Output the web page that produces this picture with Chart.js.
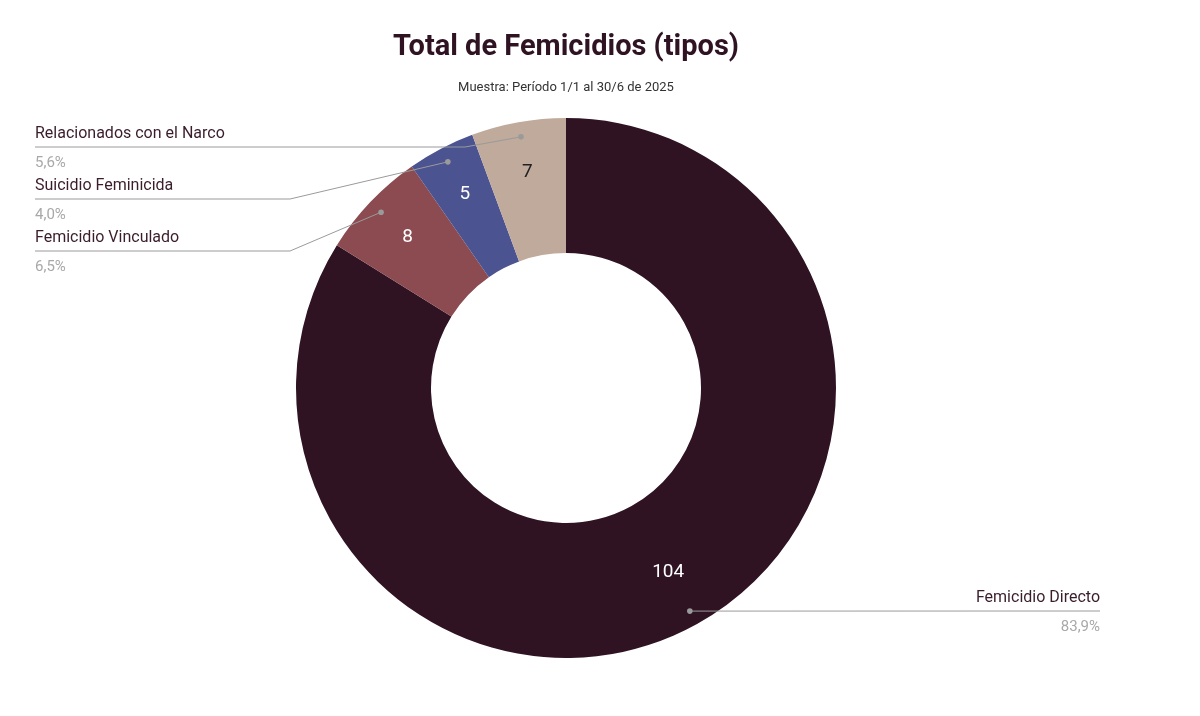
<!DOCTYPE html>
<html>
<head>
<meta charset="utf-8">
<script src="https://cdn.jsdelivr.net/npm/chart.js@4"></script>
<style>
  html, body { margin: 0; padding: 0; background: #fff; }
  #wrap { width: 1200px; height: 716px; position: relative; }
</style>
</head>
<body>
<div id="wrap"><canvas id="chart" width="1200" height="716"></canvas></div>
<script>
const categories = ['Femicidio Directo', 'Femicidio Vinculado', 'Suicidio Feminicida', 'Relacionados con el Narco'];
const values = [104, 8, 5, 7];
const percentLabels = ['83,9%', '6,5%', '4,0%', '5,6%'];
const colors = ['#2f1322', '#8c4b50', '#4b5391', '#c0aa9b'];
const valueColors = ['#ffffff', '#ffffff', '#ffffff', '#222222'];

// where each callout label sits (text y, side)
const callouts = [
  { side: 'right', lineY: 611, textX: 1100 },
  { side: 'left', lineY: 251, textX: 35, elbowX: 290 },
  { side: 'left', lineY: 199, textX: 35, elbowX: 290 },
  { side: 'left', lineY: 147, textX: 35, elbowX: 465 }
];

const labelPlugin = {
  id: 'labels',
  afterDraw(chart) {
    const ctx = chart.ctx;
    const meta = chart.getDatasetMeta(0);
    ctx.save();
    // title
    ctx.textAlign = 'center';
    ctx.fillStyle = '#2f1322';
    ctx.font = 'bold 29px Roboto';
    ctx.fillText('Total de Femicidios (tipos)', 566, 55);
    ctx.fillStyle = '#333';
    ctx.font = '13px Roboto';
    ctx.fillText('Muestra: Período 1/1 al 30/6 de 2025', 566, 91);

    meta.data.forEach((arc, i) => {
      const mid = (arc.startAngle + arc.endAngle) / 2;
      const R = arc.outerRadius;
      // value inside slice
      const vr = i === 0 ? R * 0.78 : R * 0.81;
      ctx.fillStyle = valueColors[i];
      ctx.font = '19px Roboto';
      ctx.textAlign = 'center';
      ctx.textBaseline = 'middle';
      ctx.fillText(String(values[i]), arc.x + Math.cos(mid) * vr, arc.y + Math.sin(mid) * vr);

      // callout
      const c = callouts[i];
      const dx = arc.x + Math.cos(mid) * R * 0.945;
      const dy = arc.y + Math.sin(mid) * R * 0.945;
      ctx.strokeStyle = '#9a9a9a';
      ctx.lineWidth = 1;
      ctx.beginPath();
      ctx.moveTo(dx, dy);
      if (c.side === 'right') {
        ctx.lineTo(c.textX, c.lineY);
      } else {
        ctx.lineTo(c.elbowX, c.lineY);
        ctx.lineTo(c.textX, c.lineY);
      }
      ctx.stroke();
      ctx.fillStyle = '#9a9a9a';
      ctx.beginPath();
      ctx.arc(dx, dy, 2.8, 0, Math.PI * 2);
      ctx.fill();

      ctx.textBaseline = 'alphabetic';
      ctx.textAlign = c.side === 'right' ? 'right' : 'left';
      ctx.fillStyle = '#3a1d2b';
      ctx.font = '16px Roboto';
      ctx.fillText(categories[i], c.textX, c.lineY - 9);
      ctx.fillStyle = '#a8a8a8';
      ctx.font = '15px Roboto';
      ctx.fillText(percentLabels[i], c.textX, c.lineY + 20);
    });
    ctx.restore();
  }
};

new Chart(document.getElementById('chart').getContext('2d'), {
  type: 'doughnut',
  data: {
    labels: categories,
    datasets: [{
      data: values,
      backgroundColor: colors,
      borderWidth: 0,
      hoverOffset: 0
    }]
  },
  options: {
    responsive: false,
    animation: false,
    cutout: '50%',
    layout: { padding: { top: 118, bottom: 58, left: 296, right: 364 } },
    plugins: {
      legend: { display: false },
      tooltip: { enabled: false }
    }
  },
  plugins: [labelPlugin]
});
</script>
</body>
</html>
